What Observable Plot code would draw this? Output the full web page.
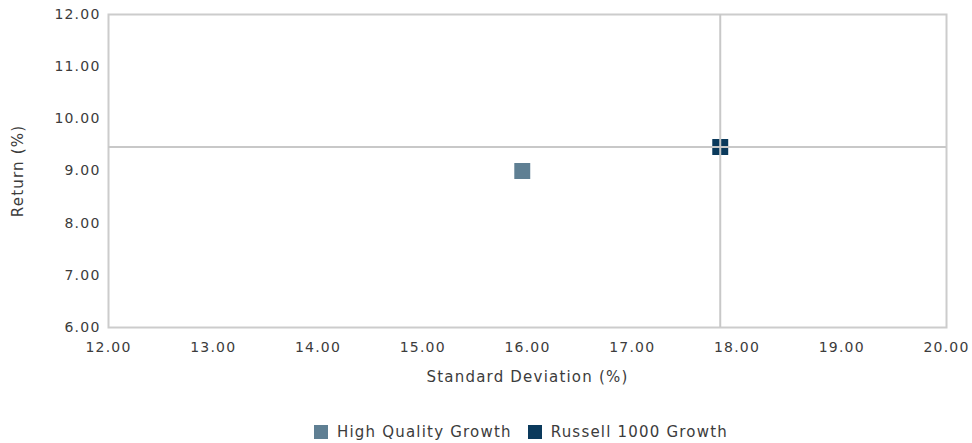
<!DOCTYPE html>
<html>
<head>
<meta charset="utf-8">
<script src="https://cdn.jsdelivr.net/npm/d3@7"></script>
<script src="https://cdn.jsdelivr.net/npm/@observablehq/plot@0.6"></script>
<style>
  body { margin: 0; background: #fff; font-family: "DejaVu Sans", sans-serif; }
  #chart svg text { letter-spacing: 1.2px; }
  #legend { display: flex; justify-content: center; align-items: center; gap: 16px;
            padding-left: 70px; width: 902px; box-sizing: content-box;
            font-size: 15px; letter-spacing: 1.2px; color: #3c3c3c; padding-top: 10px; height: 43px; }
  .item { display: flex; align-items: center; gap: 9px; }
  .sw { width: 14px; height: 14px; display: inline-block; }
</style>
</head>
<body>
<div id="chart"></div>
<div id="legend"></div>
<script>
const series = ["High Quality Growth", "Russell 1000 Growth"];
const stdDev = [15.95, 17.84];
const returns = [9.00, 9.46];
const colors = ["#5f7f93", "#0b3a5c"];
const xTicks = [12, 13, 14, 15, 16, 17, 18, 19, 20];
const yTicks = [6, 7, 8, 9, 10, 11, 12];
const benchmarkIndex = 1;

const data = series.map((s, i) => ({ name: s, x: stdDev[i], y: returns[i] }));

const chart = Plot.plot({
  width: 972,
  height: 400,
  marginLeft: 108,
  marginRight: 26,
  marginTop: 14,
  marginBottom: 73,
  style: { fontFamily: "DejaVu Sans, sans-serif", fontSize: "14px", color: "#3c3c3c", background: "#fff" },
  x: { domain: [12, 20] },
  y: { domain: [6, 12] },
  color: { domain: series, range: colors },
  marks: [
    Plot.frame({ stroke: "#cccccc", strokeWidth: 2 }),
    Plot.axisX({ ticks: xTicks, tickFormat: d => d.toFixed(2), tickSize: 0, tickPadding: 15, label: null, fontSize: 14 }),
    Plot.axisY({ ticks: yTicks, tickFormat: d => d.toFixed(2), tickSize: 0, tickPadding: 8, label: null, fontSize: 14 }),
    Plot.dot(data, { x: "x", y: "y", symbol: "square", r: 9, fill: "name", stroke: null }),
    Plot.ruleX([stdDev[benchmarkIndex]], { stroke: "#c8c8c8", strokeWidth: 2 }),
    Plot.ruleY([returns[benchmarkIndex]], { stroke: "#c8c8c8", strokeWidth: 2 }),
    Plot.text(["Standard Deviation (%)"], { frameAnchor: "bottom", dy: 54, fontSize: 15, fill: "#3c3c3c", textAnchor: "middle" }),
    Plot.text(["Return (%)"], { frameAnchor: "left", dx: -90, rotate: -90, fontSize: 15, fill: "#3c3c3c", textAnchor: "middle" })
  ]
});
document.getElementById("chart").appendChild(chart);

const legend = document.getElementById("legend");
series.forEach((s, i) => {
  const item = document.createElement("div");
  item.className = "item";
  const sw = document.createElement("span");
  sw.className = "sw";
  sw.style.background = colors[i];
  const t = document.createElement("span");
  t.textContent = s;
  item.appendChild(sw);
  item.appendChild(t);
  legend.appendChild(item);
});
</script>
</body>
</html>
